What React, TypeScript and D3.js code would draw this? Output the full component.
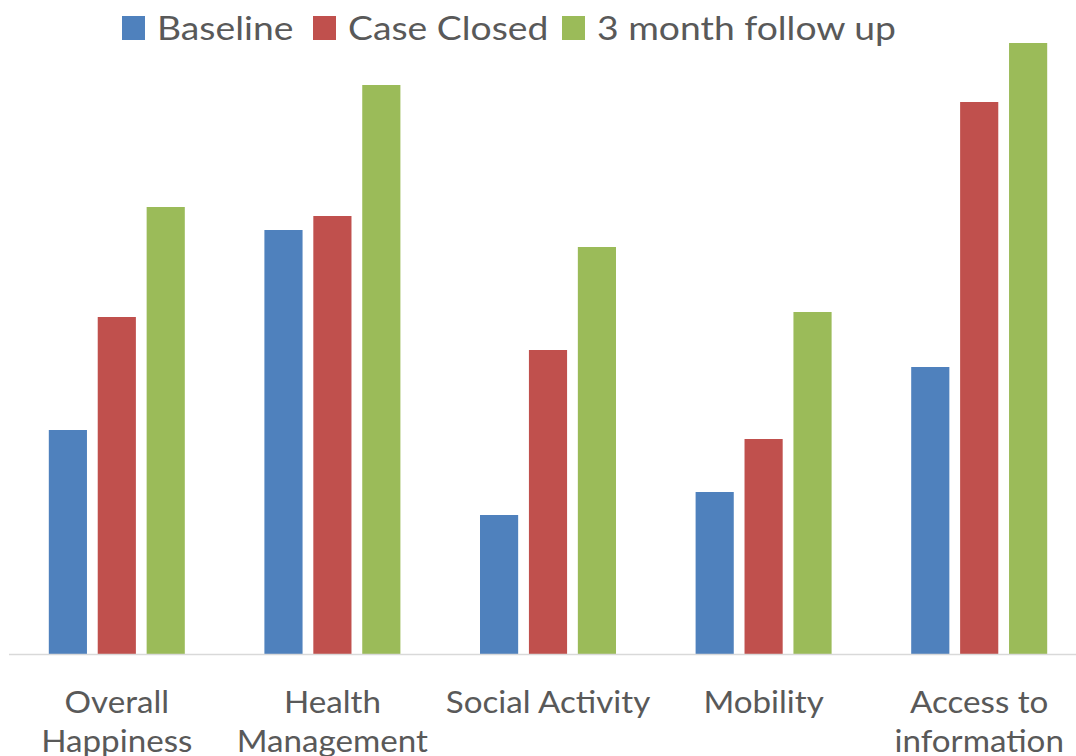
import React from "react";
import * as d3 from "d3";

const categories = [
  ["Overall", "Happiness"],
  ["Health", "Management"],
  ["Social Activity"],
  ["Mobility"],
  ["Access to", "information"],
];
const seriesNames = ["Baseline", "Case Closed", "3 month follow up"];
const baseline = [2.24, 4.24, 1.39, 1.62, 2.87];
const caseClosed = [3.37, 4.38, 3.04, 2.15, 5.52];
const followUp = [4.47, 5.69, 4.07, 3.42, 6.11];
const colors = ["#4F81BD", "#C0504D", "#9BBB59"];

const W = 1076;
const H = 756;
const FONT = "Lato, 'Open Sans', sans-serif";

export default function App() {
  const series = [baseline, caseClosed, followUp];
  const keys = categories.map((c) => c.join(" "));
  const x0 = d3.scaleBand<string>().domain(keys).range([9, 9 + 5 * 215.6]).padding(0);
  const inner = d3
    .scaleBand<number>()
    .domain([0, 1, 2])
    .range([-68, 68])
    .paddingInner(0.22);
  const y = d3.scaleLinear().domain([0, 6.54]).range([654, 0]);

  const legendX = [122, 313, 562];

  return (
    <svg
      width={W}
      height={H}
      style={{ position: "absolute", left: 0, top: 0, background: "#fff" }}
      fontFamily={FONT}
    >
      {series.map((vals, si) =>
        vals.map((v, ci) => {
          const cx = (x0(keys[ci]) ?? 0) + x0.bandwidth() / 2;
          const bx = cx + (inner(si) ?? 0);
          return (
            <rect
              key={`${si}-${ci}`}
              x={bx}
              y={y(v)}
              width={inner.bandwidth()}
              height={y(0) - y(v)}
              fill={colors[si]}
            />
          );
        })
      )}
      <line x1={9} x2={W} y1={y(0) + 0.5} y2={y(0) + 0.5} stroke="#d9d9d9" strokeWidth={1.5} />
      {categories.map((lines, ci) => {
        const cx = (x0(keys[ci]) ?? 0) + x0.bandwidth() / 2;
        return (
          <text
            key={ci}
            transform={`translate(${cx},0) scale(1.07,1)`}
            textAnchor="middle"
            fontSize={31}
            fill="#595959"
          >
            {lines.map((l, li) => (
              <tspan key={li} x={0} y={713 + li * 39}>
                {l}
              </tspan>
            ))}
          </text>
        );
      })}
      {seriesNames.map((n, si) => (
        <g key={n} transform={`translate(${legendX[si]},0)`}>
          <rect x={0} y={16} width={23} height={24} fill={colors[si]} />
          <text transform="translate(35,0) scale(1.13,1)" x={0} y={40} fontSize={33} fill="#595959">
            {n}
          </text>
        </g>
      ))}
    </svg>
  );
}
